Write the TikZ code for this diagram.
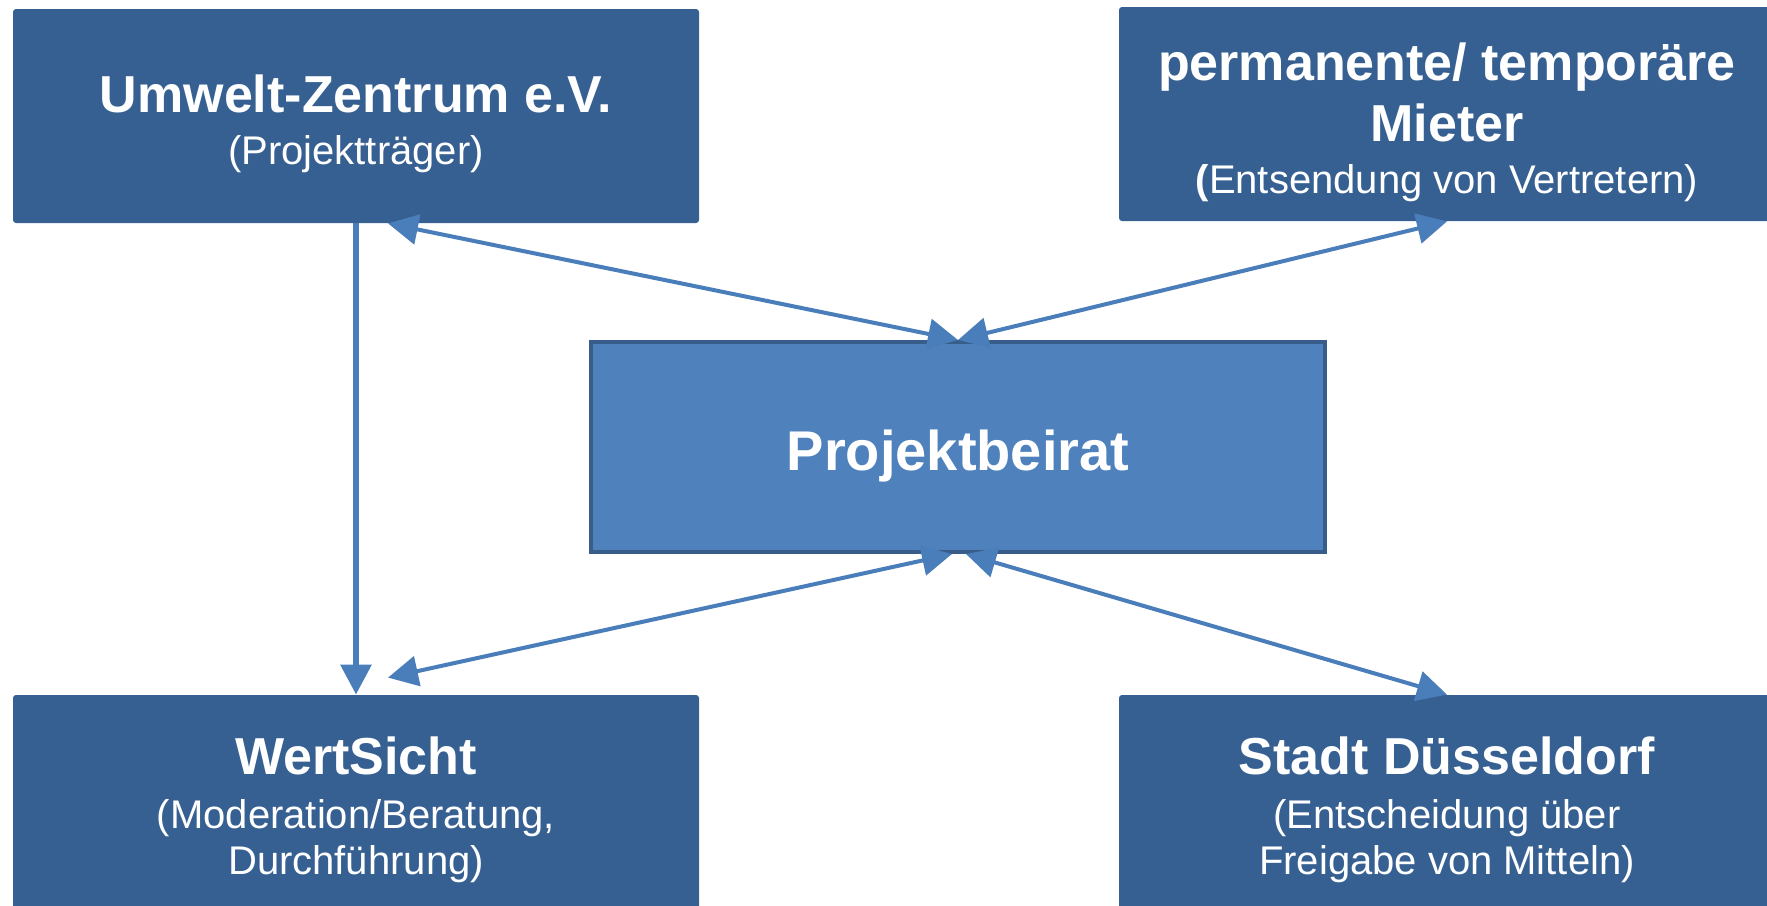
\documentclass[tikz,border=0pt]{standalone}
\usepackage{fontspec}
\setmainfont{Liberation Sans}
\usetikzlibrary{arrows.meta,positioning,calc}
\definecolor{partnerblue}{HTML}{376092}
\definecolor{beiratblue}{HTML}{4F81BD}
\definecolor{beiratedge}{HTML}{385D8A}
\definecolor{linkblue}{HTML}{4A7EBB}
\tikzset{
  partnerbox/.style={
    fill=partnerblue,
    text=white,
    rounded corners=1.5pt,
    align=center,
    inner sep=0pt,
    minimum height=107pt,
    font=\fontsize{20}{23}\selectfont
  },
  beiratbox/.style={
    fill=beiratblue,
    draw=beiratedge,
    line width=2pt,
    text=white,
    align=center,
    minimum width=367pt,
    minimum height=105pt,
    font=\fontsize{28}{32}\selectfont\bfseries,
    execute at begin node={\rule{0pt}{29.5pt}}
  },
  linkarrow/.style={{Triangle[length=15pt,width=15pt]}-{Triangle[length=15pt,width=15pt]}, line width=2pt, draw=linkblue},
  downarrow/.style={-{Triangle[length=15pt,width=15pt]}, line width=3pt, draw=linkblue}
}
% bold first line, with a strut so the text sits a little low as in the slide
\newcommand{\partnername}[1]{{\fontsize{26}{29}\selectfont\bfseries #1}}
\newcommand{\topstrut}{\rule{0pt}{27pt}}

\begin{document}
\begin{tikzpicture}[x=0.5pt, y=-0.5pt]
\useasboundingbox (0,0) rectangle (1767,905);
\fill[white] (0,0) rectangle (1767,905);

\node[beiratbox] (beirat) at (958,447) {Projektbeirat};

\node[partnerbox, minimum width=343pt] (umwelt) at (356,116) {\topstrut\partnername{Umwelt-Zentrum e.V.}\\[3pt](Projektträger)};
\node[partnerbox, minimum width=328pt] (mieter) at (1447,114) {\topstrut\partnername{permanente/ temporäre}\\[5pt]\partnername{Mieter}\\[3pt]{\bfseries (}Entsendung von Vertretern)};
\node[partnerbox, minimum width=343pt] (wertsicht) at (356,802) {\topstrut\partnername{WertSicht}\\[4pt](Moderation/Beratung,\\Durchführung)};
\node[partnerbox, minimum width=328pt] (stadt) at (1447,802) {\topstrut\partnername{Stadt Düsseldorf}\\[4pt](Entscheidung über\\Freigabe von Mitteln)};

\draw[downarrow] (umwelt.south) -- (wertsicht.north);
\draw[linkarrow] ([xshift=16pt]umwelt.south) -- (beirat.north);
\draw[linkarrow] (mieter.south) -- (beirat.north);
\draw[linkarrow] ([xshift=16pt,yshift=8.5pt]wertsicht.north) -- ([xshift=-3pt]beirat.south);
\draw[linkarrow] ([xshift=4pt]beirat.south) -- (stadt.north);
\end{tikzpicture}
\end{document}
